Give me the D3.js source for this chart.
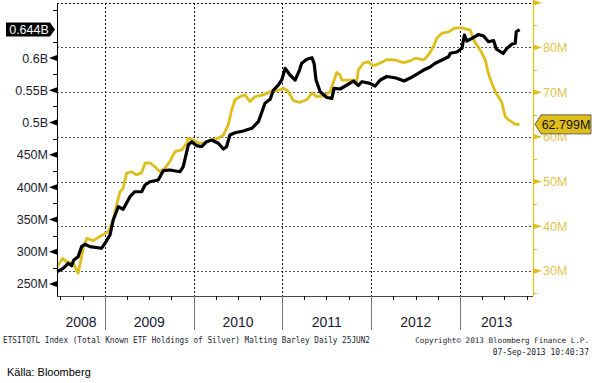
<!DOCTYPE html>
<html>
<head>
<meta charset="utf-8">
<script src="https://cdn.jsdelivr.net/npm/d3@7"></script>
<style>
  body { margin: 0; background: #fff; }
  svg { display: block; }
</style>
</head>
<body>
<svg id="chart" width="595" height="383"></svg>
<script>
/**************************
 * Data
 **************************/
// ETSITOTL Index, total known ETF holdings of silver (left axis, oz)
var silverDates = ["2008-06-19","2008-07-13","2008-08-03","2008-08-17","2008-08-26","2008-09-13","2008-09-27","2008-10-11","2008-10-31","2008-12-18",
  "2009-01-01","2009-01-22","2009-02-04","2009-02-25","2009-03-17","2009-04-14","2009-05-04","2009-06-01","2009-06-15","2009-07-05",
  "2009-08-08","2009-08-29","2009-09-25","2009-11-06","2009-11-19","2009-12-10","2009-12-24","2010-01-13","2010-02-03","2010-02-23",
  "2010-03-16","2010-04-12","2010-05-03","2010-05-16","2010-05-30","2010-06-20","2010-07-24","2010-08-28","2010-09-24","2010-10-21",
  "2010-11-11","2010-11-25","2010-12-15","2010-12-29","2011-01-12","2011-02-01","2011-02-22","2011-03-12","2011-03-21","2011-04-11",
  "2011-05-02","2011-05-11","2011-05-19","2011-06-05","2011-07-02","2011-07-23","2011-08-01","2011-08-26","2011-09-23","2011-10-20",
  "2011-11-09","2011-11-24","2011-12-27","2012-01-17","2012-02-07","2012-03-05","2012-04-12","2012-05-15","2012-06-09","2012-07-07",
  "2012-08-03","2012-08-30","2012-09-20","2012-10-18","2012-11-14","2012-11-21","2012-12-18","2013-01-08","2013-01-18","2013-01-28",
  "2013-02-18","2013-03-17","2013-04-07","2013-04-27","2013-05-18","2013-05-29","2013-06-26","2013-07-12","2013-08-02","2013-08-15",
  "2013-08-19","2013-09-02"];
var silverValues = [269.0,274.3,282.1,278.3,287.2,292.3,307.8,311.5,307.8,305.3,
  313.0,325.9,349.1,369.7,365.7,385.2,392.9,392.9,403.3,408.4,
  411.1,425.5,426.6,423.9,431.7,465.3,470.4,464.2,462.6,470.4,
  473.0,467.9,459.1,462.6,480.8,484.3,487.0,491.1,501.4,529.8,
  536.0,550.4,558.2,565.9,584.1,573.7,565.9,581.4,591.8,598.0,
  600.5,591.8,565.9,547.8,538.8,537.6,553.1,552.0,558.2,564.4,
  557.4,563.3,560.8,556.6,565.9,571.4,569.0,564.4,569.0,575.2,
  581.4,586.1,591.8,596.9,602.0,607.3,609.3,615.0,635.6,626.3,
  630.5,636.4,634.1,625.2,627.1,613.9,607.0,615.0,621.7,622.8,
  640.7,644.0];

// Malting barley (right axis)
var barleyDates = ["2008-06-19","2008-07-11","2008-07-27","2008-08-24","2008-09-13","2008-09-20","2008-10-04","2008-10-18","2008-11-14","2008-12-11",
  "2009-01-15","2009-02-04","2009-02-18","2009-03-04","2009-03-17","2009-03-31","2009-04-21","2009-05-11","2009-06-01","2009-06-15",
  "2009-07-05","2009-07-26","2009-08-15","2009-09-05","2009-09-25","2009-10-16","2009-11-13","2009-12-03","2009-12-10","2009-12-30",
  "2010-01-20","2010-02-09","2010-03-16","2010-04-12","2010-05-03","2010-05-23","2010-06-06","2010-06-20","2010-07-10","2010-07-31",
  "2010-08-21","2010-09-10","2010-10-14","2010-11-11","2010-12-22","2011-01-05","2011-01-25","2011-02-15","2011-03-12","2011-04-11",
  "2011-05-02","2011-05-22","2011-06-18","2011-07-16","2011-08-12","2011-08-26","2011-09-02","2011-10-13","2011-11-03","2011-11-09",
  "2011-11-30","2011-12-20","2012-01-10","2012-02-07","2012-03-06","2012-04-08","2012-05-13","2012-06-09","2012-06-30","2012-08-03",
  "2012-08-23","2012-09-13","2012-09-27","2012-10-18","2012-11-14","2012-12-11","2013-01-08","2013-02-11","2013-02-25","2013-03-24",
  "2013-04-14","2013-04-27","2013-05-11","2013-05-25","2013-06-21","2013-07-05","2013-07-19","2013-08-02","2013-08-15","2013-09-02"];
var barleyValues = [31.0,32.8,32.1,31.7,29.5,31.3,35.1,37.3,36.8,37.7,
  38.8,41.4,44.8,47.7,48.5,51.9,52.2,51.5,52.0,54.1,
  54.2,53.3,52.2,53.0,54.5,56.7,57.1,58.6,59.7,59.3,
  58.6,58.6,59.3,59.7,60.4,62.7,66.0,68.3,69.0,69.4,
  67.9,69.0,69.4,70.1,70.5,70.9,70.1,68.1,67.7,68.3,
  69.8,69.0,69.1,70.1,74.4,73.8,72.7,72.7,72.6,75.0,
  76.5,76.8,75.9,76.5,77.3,77.2,76.6,77.0,77.6,77.2,
  78.3,80.2,82.1,83.2,83.5,84.4,84.4,83.9,81.7,79.4,
  77.2,74.1,72.0,70.1,67.7,64.5,63.8,63.3,62.8,62.799];

var leftTicks = [250, 300, 350, 400, 450, 500, 550, 600];
var leftTickLabels = ["250M", "300M", "350M", "400M", "450M", "0.5B", "0.55B", "0.6B"];
var leftMinorTicks = [275, 325, 375, 425, 475, 525, 575, 625, 675];
var rightTicks = [30, 40, 50, 60, 70, 80, 90];
var rightTickLabels = ["30M", "40M", "50M", "60M", "70M", "80M", ""];
var rightMinorTicks = [25, 35, 45, 55, 65, 75, 85];
var years = [2008, 2009, 2010, 2011, 2012, 2013];
var lastSilverLabel = "0.644B";
var lastBarleyLabel = "62.799M";

/**************************
 * Setup
 **************************/
var parse = d3.timeParse("%Y-%m-%d");
var yellow = "#dfbe1c";
var yellowText = "#e2c450";
var fontAxis = "'Liberation Sans', Arial, sans-serif";
var fontMono = "'DejaVu Sans Mono', 'Liberation Mono', monospace";

// plot box (note: "top" is reserved on window, so prefix everything)
var plotL = 57, plotR = 533, plotT = 3, plotB = 296;
var svg = d3.select("#chart");

var x = d3.scaleTime()
  .domain([parse("2008-06-18"), parse("2013-10-27")])
  .range([plotL, plotR]);
var yL = d3.scaleLinear().domain([231.4, 685.2]).range([plotB, plotT]);
var yR = d3.scaleLinear().domain([24.4, 89.95]).range([plotB, plotT]);

var silver = silverDates.map(function(d, i) { return {date: parse(d), value: silverValues[i]}; });
var barley = barleyDates.map(function(d, i) { return {date: parse(d), value: barleyValues[i]}; });

/**************************
 * Grid
 **************************/
svg.append("g").selectAll("line").data(rightTicks).enter().append("line")
  .attr("x1", plotL).attr("x2", plotR)
  .attr("y1", function(d) { return Math.round(yR(d)) + 0.5; })
  .attr("y2", function(d) { return Math.round(yR(d)) + 0.5; })
  .attr("stroke", function(d) { return d === 90 ? "#111" : "#555"; })
  .attr("stroke-dasharray", "2,2");

var yearStarts = years.slice(1).map(function(y) { return new Date(y, 0, 1); });
svg.append("g").selectAll("line").data(yearStarts).enter().append("line")
  .attr("x1", function(d) { return Math.round(x(d)) + 0.5; })
  .attr("x2", function(d) { return Math.round(x(d)) + 0.5; })
  .attr("y1", plotT).attr("y2", plotB)
  .attr("stroke", "#111")
  .attr("stroke-dasharray", "2,2");

/**************************
 * Lines
 **************************/
var lineR = d3.line().x(function(d) { return x(d.date); }).y(function(d) { return yR(d.value); });
var lineL = d3.line().x(function(d) { return x(d.date); }).y(function(d) { return yL(d.value); });

svg.append("path").datum(barley)
  .attr("d", lineR).attr("fill", "none")
  .attr("stroke", yellow).attr("stroke-width", 2.8).attr("stroke-linejoin", "round");
svg.append("path").datum(silver)
  .attr("d", lineL).attr("fill", "none")
  .attr("stroke", "#000").attr("stroke-width", 3.2).attr("stroke-linejoin", "round");

/**************************
 * Left axis
 **************************/
var gl = svg.append("g");
gl.append("line").attr("x1", plotL + 0.5).attr("x2", plotL + 0.5).attr("y1", plotT).attr("y2", plotB)
  .attr("stroke", "#000");
gl.selectAll(".minor").data(leftMinorTicks).enter().append("line")
  .attr("x1", plotL - 4).attr("x2", plotL)
  .attr("y1", function(d) { return Math.round(yL(d)) + 0.5; })
  .attr("y2", function(d) { return Math.round(yL(d)) + 0.5; })
  .attr("stroke", "#000");
gl.selectAll(".tri").data(leftTicks).enter().append("path")
  .attr("d", function(d) {
    var ty = yL(d);
    return "M" + plotL + "," + (ty - 3) + "L" + (plotL - 8) + "," + ty + "L" + plotL + "," + (ty + 3) + "Z";
  })
  .attr("fill", "#000");
gl.selectAll("text").data(leftTicks).enter().append("text")
  .attr("x", 48).attr("y", function(d) { return yL(d); })
  .attr("dy", "0.36em")
  .attr("text-anchor", "end")
  .attr("font-family", fontAxis).attr("font-size", 12.5)
  .attr("fill", "#1b1b30")
  .text(function(d, i) { return leftTickLabels[i]; });

// last value box
var ly = yL(silverValues[silverValues.length - 1]);
gl.append("path")
  .attr("d", "M6," + (ly - 7) + "L50," + (ly - 7) + "L55," + ly + "L50," + (ly + 7) + "L6," + (ly + 7) + "Z")
  .attr("fill", "#000");
gl.append("text").attr("x", 29).attr("y", ly).attr("dy", "0.36em")
  .attr("text-anchor", "middle")
  .attr("font-family", fontAxis).attr("font-size", 12.5)
  .attr("fill", "#fff").text(lastSilverLabel);

/**************************
 * Right axis
 **************************/
var gr = svg.append("g");
gr.append("line").attr("x1", plotR + 0.5).attr("x2", plotR + 0.5).attr("y1", 0).attr("y2", plotB)
  .attr("stroke", yellow).attr("stroke-width", 1.2);
gr.selectAll(".minor").data(rightMinorTicks).enter().append("line")
  .attr("x1", plotR).attr("x2", plotR + 4)
  .attr("y1", function(d) { return Math.round(yR(d)) + 0.5; })
  .attr("y2", function(d) { return Math.round(yR(d)) + 0.5; })
  .attr("stroke", yellow);
gr.selectAll(".tri").data(rightTicks).enter().append("path")
  .attr("d", function(d) {
    var ty = yR(d);
    return "M" + plotR + "," + (ty - 3) + "L" + (plotR + 9) + "," + ty + "L" + plotR + "," + (ty + 3) + "Z";
  })
  .attr("fill", yellow);
gr.selectAll("text").data(rightTicks).enter().append("text")
  .attr("x", 543).attr("y", function(d) { return yR(d); })
  .attr("dy", "0.36em")
  .attr("font-family", fontAxis).attr("font-size", 12.5)
  .attr("fill", yellowText)
  .text(function(d, i) { return rightTickLabels[i]; });

var ry = yR(barleyValues[barleyValues.length - 1]);
gr.append("path")
  .attr("d", "M535," + ry + "L541," + (ry - 9.5) + "L591," + (ry - 9.5) + "L591," + (ry + 9.5) + "L541," + (ry + 9.5) + "Z")
  .attr("fill", yellow).attr("stroke", "#444").attr("stroke-width", 0.8);
gr.append("text").attr("x", 566).attr("y", ry).attr("dy", "0.36em")
  .attr("text-anchor", "middle")
  .attr("font-family", fontAxis).attr("font-size", 12.5)
  .attr("fill", "#111").text(lastBarleyLabel);

/**************************
 * Time axis
 **************************/
var gx = svg.append("g");
gx.append("line").attr("x1", plotL).attr("x2", plotR).attr("y1", plotB + 0.5).attr("y2", plotB + 0.5)
  .attr("stroke", "#444");
gx.selectAll(".q").data(x.ticks(d3.timeMonth.every(3))).enter().append("line")
  .attr("x1", function(d) { return Math.round(x(d)) + 0.5; })
  .attr("x2", function(d) { return Math.round(x(d)) + 0.5; })
  .attr("y1", plotB).attr("y2", plotB + 4)
  .attr("stroke", "#000");
gx.selectAll(".sep").data(yearStarts).enter().append("line")
  .attr("x1", function(d) { return Math.round(x(d)) + 0.5; })
  .attr("x2", function(d) { return Math.round(x(d)) + 0.5; })
  .attr("y1", plotB).attr("y2", 330)
  .attr("stroke", "#777");
gx.selectAll("text").data(years).enter().append("text")
  .attr("x", function(y) {
    var a = Math.max(x(new Date(y, 0, 1)), plotL);
    var b = Math.min(x(new Date(y + 1, 0, 1)), plotR);
    return (a + b) / 2;
  })
  .attr("y", 327)
  .attr("text-anchor", "middle")
  .attr("font-family", fontAxis).attr("font-size", 14)
  .attr("fill", "#1b1b30")
  .text(function(y) { return y; });

/**************************
 * Footer texts
 **************************/
svg.append("text").attr("x", 3).attr("y", 343)
  .attr("font-family", fontMono).attr("font-size", 8.5)
  .attr("textLength", 367).attr("lengthAdjust", "spacingAndGlyphs")
  .attr("fill", "#1b1b30")
  .text("ETSITOTL Index (Total Known ETF Holdings of Silver) Malting Barley  Daily 25JUN2");
// right-hand footer: sized by font rather than textLength so the end anchor stays put
svg.append("text").attr("x", 589).attr("y", 343)
  .attr("text-anchor", "end")
  .attr("font-family", fontMono).attr("font-size", 7.6)
  .attr("fill", "#1b1b30")
  .text("Copyright\u00a9 2013 Bloomberg Finance L.P.");
svg.append("text").attr("x", 589).attr("y", 355)
  .attr("text-anchor", "end")
  .attr("font-family", fontMono).attr("font-size", 8)
  .attr("fill", "#1b1b30")
  .text("07-Sep-2013 10:40:37");
svg.append("text").attr("x", 7).attr("y", 376)
  .attr("font-family", fontAxis).attr("font-size", 11)
  .attr("fill", "#000")
  .text("K\u00e4lla: Bloomberg");
</script>
</body>
</html>
